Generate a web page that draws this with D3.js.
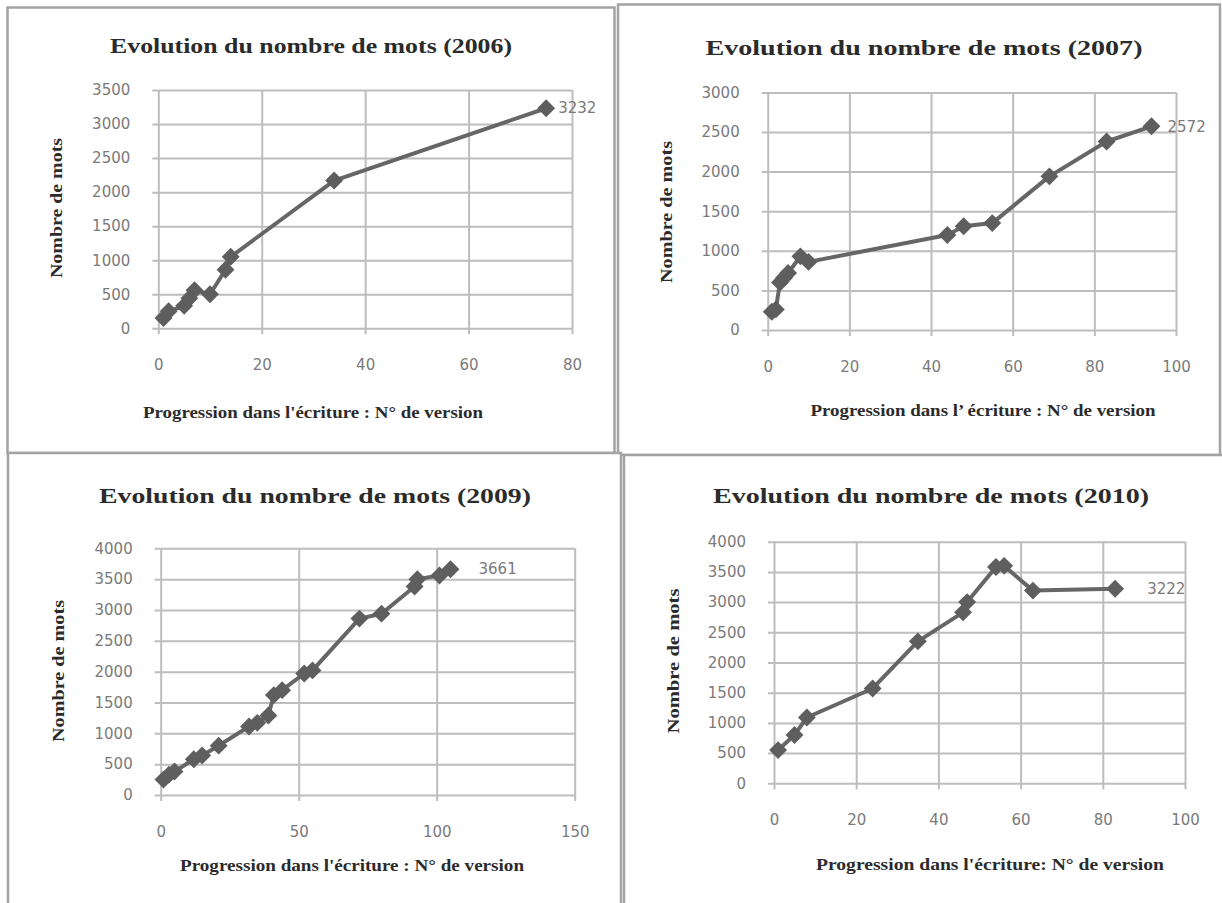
<!DOCTYPE html>
<html>
<head>
<meta charset="utf-8">
<script src="https://cdn.jsdelivr.net/npm/d3@7"></script>
<style>
  body { margin: 0; background: #fff; }
  svg { display: block; }
  .grid line { stroke: #bdbdbd; stroke-width: 2; }
  .grid text { font-family: "DejaVu Sans", sans-serif; font-size: 15px; fill: #7a7a7a; }
  .ttl { font-family: "Liberation Serif", serif; font-weight: bold; fill: #2b2b2b; }
</style>
</head>
<body>
<svg width="1222" height="903"></svg>
<script>
// data (x = n° de version, y = nombre de mots)
var versions2006 = [1, 2, 5, 6, 7, 10, 13, 14, 34, 75];
var mots2006     = [150, 250, 330, 440, 560, 500, 860, 1050, 2170, 3232];

var versions2007 = [1, 2, 3, 4, 5, 8, 10, 44, 48, 55, 69, 83, 94];
var mots2007     = [230, 260, 600, 660, 720, 930, 860, 1200, 1310, 1350, 1940, 2380, 2572];

var versions2009 = [1, 3, 5, 12, 15, 21, 32, 35, 39, 41, 44, 52, 55, 72, 80, 92, 93, 101, 105];
var mots2009     = [250, 330, 380, 580, 640, 800, 1110, 1170, 1290, 1620, 1700, 1970, 2020, 2860, 2940, 3380, 3500, 3560, 3661];

var versions2010 = [1, 5, 8, 24, 35, 46, 47, 54, 56, 63, 83];
var mots2010     = [550, 800, 1090, 1570, 2350, 2830, 3000, 3580, 3600, 3190, 3222];

var years = ["2006", "2007", "2009", "2010"];
var xMax = [80, 100, 150, 100];
var xStep = [20, 20, 50, 20];
var yMax = [3500, 3000, 4000, 4000];
var yStep = 500;

var xTitles = [
  "Progression dans l'écriture : N° de version",
  "Progression dans l’ écriture : N° de version",
  "Progression dans l'écriture : N° de version",
  "Progression dans l'écriture: N° de version"
];

// layout of each panel (box, plot area, text spots)
var layout = [
  { box: [7.5, 7.5, 614.5, 453], plot: [158.3, 572, 90, 328.3],
    title: [311, 53, 402], xt: [313, 418, 340], yt: [56, 208, 140], lab: 12 },
  { box: [618, 4.5, 1220, 455], plot: [767.7, 1176, 92.4, 330],
    title: [924, 55, 437], xt: [983, 416, 345], yt: [666, 212, 142], lab: 16 },
  { box: [8, 453, 621, 912], plot: [160.7, 574.7, 548.3, 795],
    title: [315, 503, 432], xt: [352, 871, 344], yt: [58, 671, 142], lab: 28 },
  { box: [624, 455, 1226, 912], plot: [774, 1185, 541.7, 783.3],
    title: [931, 503, 436], xt: [990, 870, 348], yt: [673, 661, 145], lab: 32 }
];

var series = [
  d3.zip(versions2006, mots2006),
  d3.zip(versions2007, mots2007),
  d3.zip(versions2009, mots2009),
  d3.zip(versions2010, mots2010)
];

var svg = d3.select("svg");

series.forEach(function(data, i) {
  var L = layout[i], p = L.plot;
  var w = p[1] - p[0], h = p[3] - p[2];

  svg.append("rect")
      .attr("x", L.box[0]).attr("y", L.box[1])
      .attr("width", L.box[2] - L.box[0]).attr("height", L.box[3] - L.box[1])
      .attr("fill", "#fff").attr("stroke", "#a3a3a3").attr("stroke-width", 2.5);

  var x = d3.scaleLinear().domain([0, xMax[i]]).range([0, w]);
  var y = d3.scaleLinear().domain([0, yMax[i]]).range([h, 0]);

  var g = svg.append("g").attr("transform", "translate(" + p[0] + "," + p[2] + ")");

  // horizontal gridlines, poking 6px left of the plot like Excel ticks
  g.append("g")
      .attr("class", "grid")
      .attr("transform", "translate(-6,0)")
      .call(d3.axisLeft(y).tickValues(d3.range(0, yMax[i] + 1, yStep))
          .tickFormat(d3.format("d"))
          .tickSizeInner(-(w + 6)).tickSizeOuter(0).tickPadding(22))
      .call(function(a) { a.select(".domain").remove(); });

  g.append("g")
      .attr("class", "grid")
      .attr("transform", "translate(0," + (h + 6) + ")")
      .call(d3.axisBottom(x).tickValues(d3.range(0, xMax[i] + 1, xStep[i]))
          .tickFormat(d3.format("d"))
          .tickSizeInner(-(h + 6)).tickSizeOuter(0).tickPadding(25))
      .call(function(a) { a.select(".domain").remove(); });

  var line = d3.line()
      .x(function(d) { return x(d[0]); })
      .y(function(d) { return y(d[1]); });

  g.append("path")
      .datum(data)
      .attr("d", line)
      .attr("fill", "none")
      .attr("stroke", "#666")
      .attr("stroke-width", 4)
      .attr("stroke-linejoin", "round");

  g.selectAll(".pt")
    .data(data)
    .enter().append("path")
      .attr("class", "pt")
      .attr("d", d3.symbol().type(d3.symbolSquare).size(160))
      .attr("transform", function(d) { return "translate(" + x(d[0]) + "," + y(d[1]) + ") rotate(45)"; })
      .attr("fill", "#5e5e5e");

  var last = data[data.length - 1];
  g.append("text")
      .attr("x", x(last[0]) + L.lab)
      .attr("y", y(last[1]))
      .attr("dy", "0.35em")
      .attr("font-family", "DejaVu Sans, sans-serif")
      .attr("font-size", 15)
      .attr("fill", "#7a7a7a")
      .text(last[1]);

  svg.append("text")
      .attr("class", "ttl")
      .attr("x", L.title[0]).attr("y", L.title[1])
      .attr("text-anchor", "middle")
      .attr("font-size", 21)
      .attr("textLength", L.title[2]).attr("lengthAdjust", "spacingAndGlyphs")
      .text("Evolution du nombre de mots (" + years[i] + ")");

  svg.append("text")
      .attr("class", "ttl")
      .attr("x", L.xt[0]).attr("y", L.xt[1])
      .attr("text-anchor", "middle")
      .attr("font-size", 16)
      .attr("textLength", L.xt[2]).attr("lengthAdjust", "spacingAndGlyphs")
      .text(xTitles[i]);

  svg.append("text")
      .attr("class", "ttl")
      .attr("transform", "translate(" + L.yt[0] + "," + L.yt[1] + ") rotate(-90)")
      .attr("text-anchor", "middle")
      .attr("dy", "0.35em")
      .attr("font-size", 16)
      .attr("textLength", L.yt[2]).attr("lengthAdjust", "spacingAndGlyphs")
      .text("Nombre de mots");
});
</script>
</body>
</html>
